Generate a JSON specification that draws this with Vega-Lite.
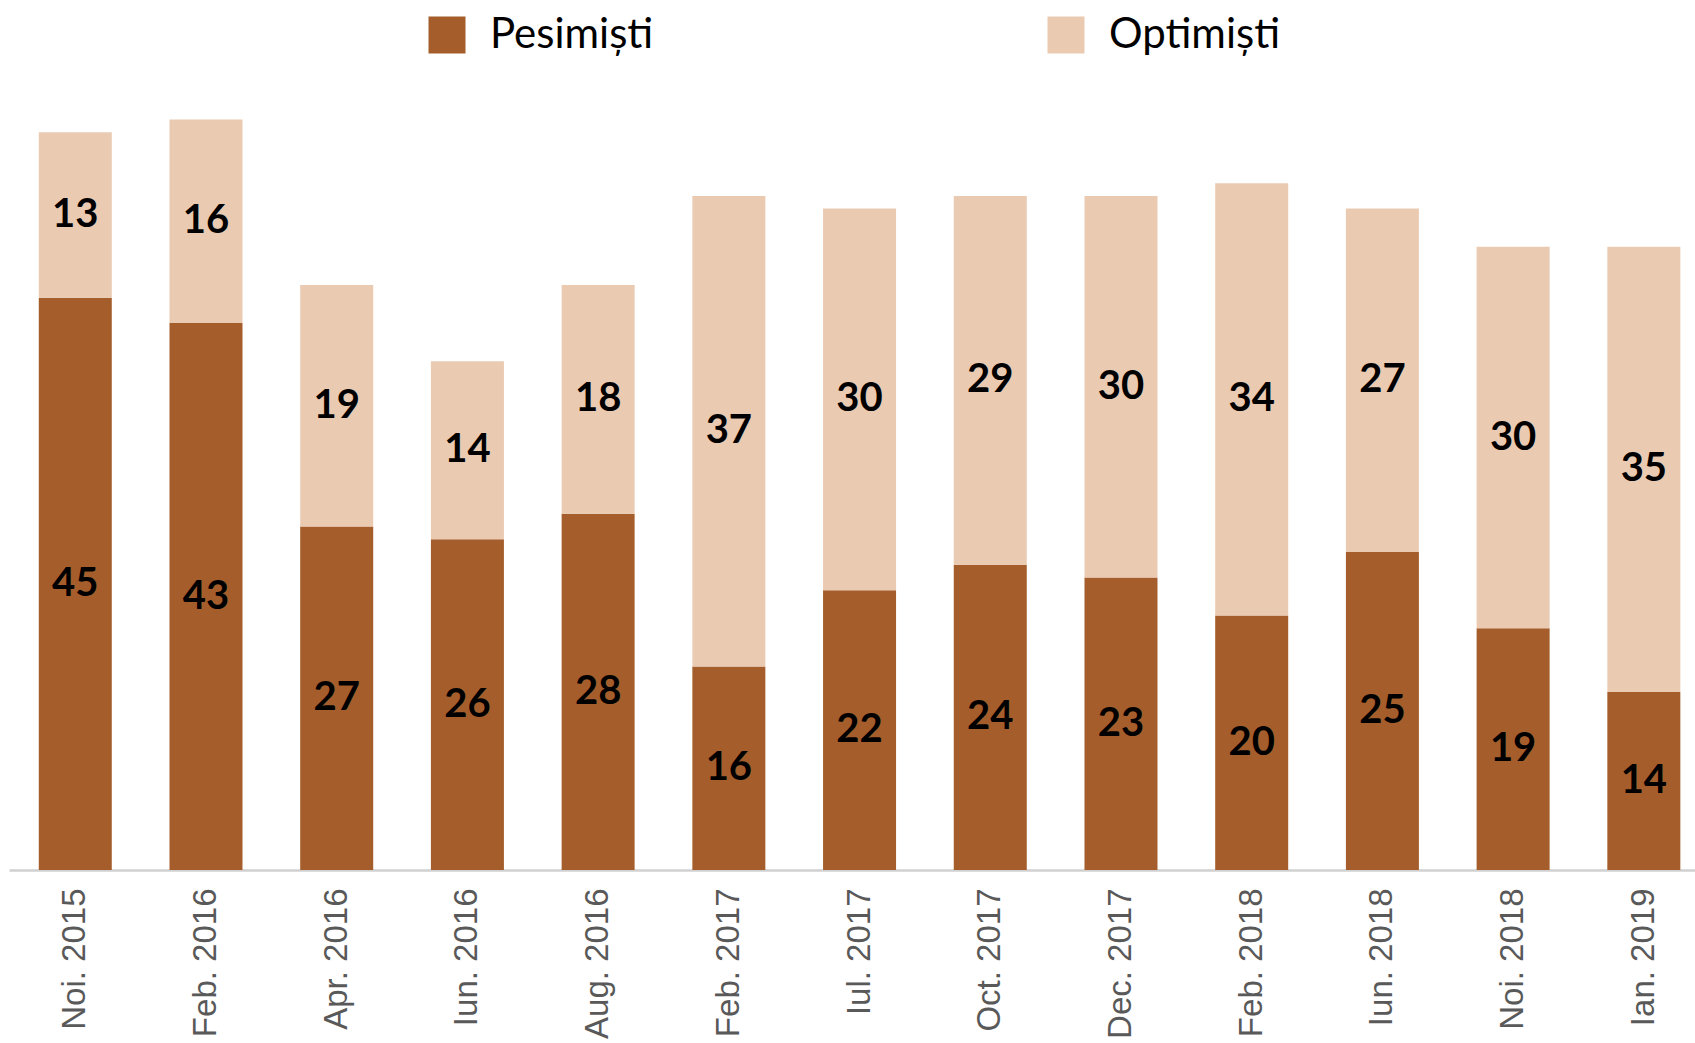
{
  "$schema": "https://vega.github.io/schema/vega-lite/v6.json",
  "autosize": {"type": "none"},
  "padding": {"left": 9, "top": 0, "right": 0, "bottom": 173},
  "width": 1686,
  "height": 870,
  "background": "white",
  "config": {"view": {"stroke": null}},
  "data": {
    "values": [
      {"luna": "Noi. 2015", "grup": "Pesimiști", "valoare": 45, "ord": 0},
      {"luna": "Noi. 2015", "grup": "Optimiști", "valoare": 13, "ord": 1},
      {"luna": "Feb. 2016", "grup": "Pesimiști", "valoare": 43, "ord": 0},
      {"luna": "Feb. 2016", "grup": "Optimiști", "valoare": 16, "ord": 1},
      {"luna": "Apr. 2016", "grup": "Pesimiști", "valoare": 27, "ord": 0},
      {"luna": "Apr. 2016", "grup": "Optimiști", "valoare": 19, "ord": 1},
      {"luna": "Iun. 2016", "grup": "Pesimiști", "valoare": 26, "ord": 0},
      {"luna": "Iun. 2016", "grup": "Optimiști", "valoare": 14, "ord": 1},
      {"luna": "Aug. 2016", "grup": "Pesimiști", "valoare": 28, "ord": 0},
      {"luna": "Aug. 2016", "grup": "Optimiști", "valoare": 18, "ord": 1},
      {"luna": "Feb. 2017", "grup": "Pesimiști", "valoare": 16, "ord": 0},
      {"luna": "Feb. 2017", "grup": "Optimiști", "valoare": 37, "ord": 1},
      {"luna": "Iul. 2017", "grup": "Pesimiști", "valoare": 22, "ord": 0},
      {"luna": "Iul. 2017", "grup": "Optimiști", "valoare": 30, "ord": 1},
      {"luna": "Oct. 2017", "grup": "Pesimiști", "valoare": 24, "ord": 0},
      {"luna": "Oct. 2017", "grup": "Optimiști", "valoare": 29, "ord": 1},
      {"luna": "Dec. 2017", "grup": "Pesimiști", "valoare": 23, "ord": 0},
      {"luna": "Dec. 2017", "grup": "Optimiști", "valoare": 30, "ord": 1},
      {"luna": "Feb. 2018", "grup": "Pesimiști", "valoare": 20, "ord": 0},
      {"luna": "Feb. 2018", "grup": "Optimiști", "valoare": 34, "ord": 1},
      {"luna": "Iun. 2018", "grup": "Pesimiști", "valoare": 25, "ord": 0},
      {"luna": "Iun. 2018", "grup": "Optimiști", "valoare": 27, "ord": 1},
      {"luna": "Noi. 2018", "grup": "Pesimiști", "valoare": 19, "ord": 0},
      {"luna": "Noi. 2018", "grup": "Optimiști", "valoare": 30, "ord": 1},
      {"luna": "Ian. 2019", "grup": "Pesimiști", "valoare": 14, "ord": 0},
      {"luna": "Ian. 2019", "grup": "Optimiști", "valoare": 35, "ord": 1}
    ]
  },
  "transform": [
    {"stack": "valoare", "groupby": ["luna"], "sort": [{"field": "ord", "order": "ascending"}], "as": ["y0", "y1"]},
    {"calculate": "(datum.y0 + datum.y1) / 2", "as": "ymid"}
  ],
  "encoding": {
    "x": {
      "field": "luna",
      "type": "nominal",
      "sort": null,
      "scale": {"paddingInner": 0.4415, "paddingOuter": 0.17, "align": 0.67},
      "axis": {
        "title": null,
        "labelAngle": -90,
        "labelFont": "Liberation Sans",
        "labelFontSize": 33,
        "labelColor": "#595959",
        "labelPadding": 18,
        "ticks": false,
        "domainColor": "#d0d0d0",
        "domainWidth": 2.5,
        "labelAlign": "right",
        "labelBaseline": "middle"
      }
    }
  },
  "layer": [
    {
      "mark": {"type": "bar"},
      "encoding": {
        "y": {"field": "y0", "type": "quantitative", "scale": {"domain": [0, 68.4], "nice": false, "zero": true}, "axis": null},
        "y2": {"field": "y1"},
        "color": {
          "field": "grup",
          "type": "nominal",
          "scale": {"domain": ["Pesimiști", "Optimiști"], "range": ["#A55E2B", "#EBCAB2"]},
          "legend": {
            "title": null,
            "orient": "none",
            "direction": "horizontal",
            "legendX": 417,
            "legendY": 14,
            "symbolType": "square",
            "symbolSize": 1369,
            "symbolStrokeWidth": 0,
            "labelFont": "Lato",
            "labelFontSize": 42,
            "labelColor": "#000000",
            "labelOffset": 22,
            "labelLimit": 400,
            "columnPadding": 391,
            "padding": 0
          }
        }
      }
    },
    {
      "mark": {"type": "text", "font": "Lato", "fontWeight": "bold", "fontSize": 40, "color": "#000000", "baseline": "middle", "align": "center"},
      "encoding": {
        "y": {"field": "ymid", "type": "quantitative"},
        "text": {"field": "valoare", "type": "quantitative"}
      }
    }
  ]
}
